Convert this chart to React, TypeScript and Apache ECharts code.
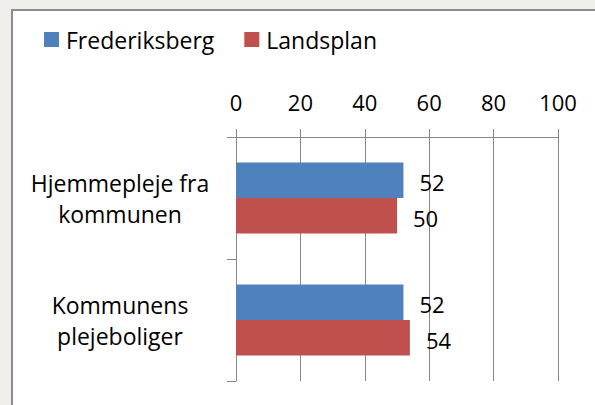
import React, { useEffect, useRef } from 'react';
import * as echarts from 'echarts';

const categories = ['Hjemmepleje fra\nkommunen', 'Kommunens\nplejeboliger'];
const seriesNames = ['Frederiksberg', 'Landsplan'];
const frederiksberg = [52, 52];
const landsplan = [50, 54];
const axisTicks = [0, 20, 40, 60, 80, 100];

const FONT = '"Open Sans", sans-serif';

export default function App() {
  const ref = useRef<HTMLDivElement>(null);
  useEffect(() => {
    if (!ref.current) return;
    const chart = echarts.init(ref.current, null, { renderer: 'svg' });
    chart.setOption({
      animation: false,
      textStyle: { fontFamily: FONT },
      graphic: [
        { type: 'text', left: 207, top: -27, style: { text: '(', font: '24px "Open Sans"', fill: '#0a9a4a' } },
        { type: 'text', left: 373, top: -27, style: { text: ')', font: '24px "Open Sans"', fill: '#0a9a4a' } },
      ],
      legend: {
        left: 44,
        top: 28,
        padding: 0,
        itemWidth: 15,
        itemHeight: 15,
        itemGap: 30,
        icon: 'rect',
        textStyle: { fontFamily: FONT, fontSize: 23, color: '#000', padding: [0, 0, 0, 2] },
        data: seriesNames,
      },
      grid: { left: 236, right: 37, top: 137, bottom: 24 },
      xAxis: {
        type: 'value',
        position: 'top',
        min: axisTicks[0],
        max: axisTicks[axisTicks.length - 1],
        interval: axisTicks[1] - axisTicks[0],
        axisLine: { show: true, lineStyle: { color: '#878787', width: 1 } },
        axisTick: { show: true, length: 8, lineStyle: { color: '#878787' } },
        splitLine: { show: true, lineStyle: { color: '#878787', width: 1 } },
        axisLabel: { fontFamily: FONT, fontSize: 22, color: '#000', margin: 24 },
      },
      yAxis: {
        type: 'category',
        inverse: true,
        data: categories,
        axisLine: { show: true, lineStyle: { color: '#878787', width: 1 } },
        axisTick: { show: true, length: 9, lineStyle: { color: '#878787' } },
        axisLabel: { fontFamily: FONT, fontSize: 23, color: '#000', align: 'center', margin: 116, lineHeight: 31, padding: [0, 0, 5, 0] },
      },
      series: [
        {
          name: seriesNames[0],
          type: 'bar',
          data: frederiksberg,
          barGap: '0%',
          barCategoryGap: '42%',
          itemStyle: { color: '#4f81bd' },
          label: { show: true, position: 'right', distance: 16, offset: [0, 2], fontFamily: FONT, fontSize: 22, color: '#000' },
        },
        {
          name: seriesNames[1],
          type: 'bar',
          data: landsplan,
          barGap: '0%',
          barCategoryGap: '42%',
          itemStyle: { color: '#c0504d' },
          label: { show: true, position: 'right', distance: 16, offset: [0, 2], fontFamily: FONT, fontSize: 22, color: '#000' },
        },
      ],
    });
    return () => chart.dispose();
  }, []);
  return (
    <div style={{ position: 'fixed', left: 0, top: 0, width: 595, height: 405, background: '#f0efeb', overflow: 'hidden' }}>
      <div style={{ position: 'absolute', left: 11, top: 9, width: 620, height: 420, background: '#fff', border: '2px solid #8c8c8c', boxSizing: 'border-box' }} />
      <div ref={ref} style={{ position: 'absolute', left: 0, top: 0, width: 595, height: 405 }} />
    </div>
  );
}
